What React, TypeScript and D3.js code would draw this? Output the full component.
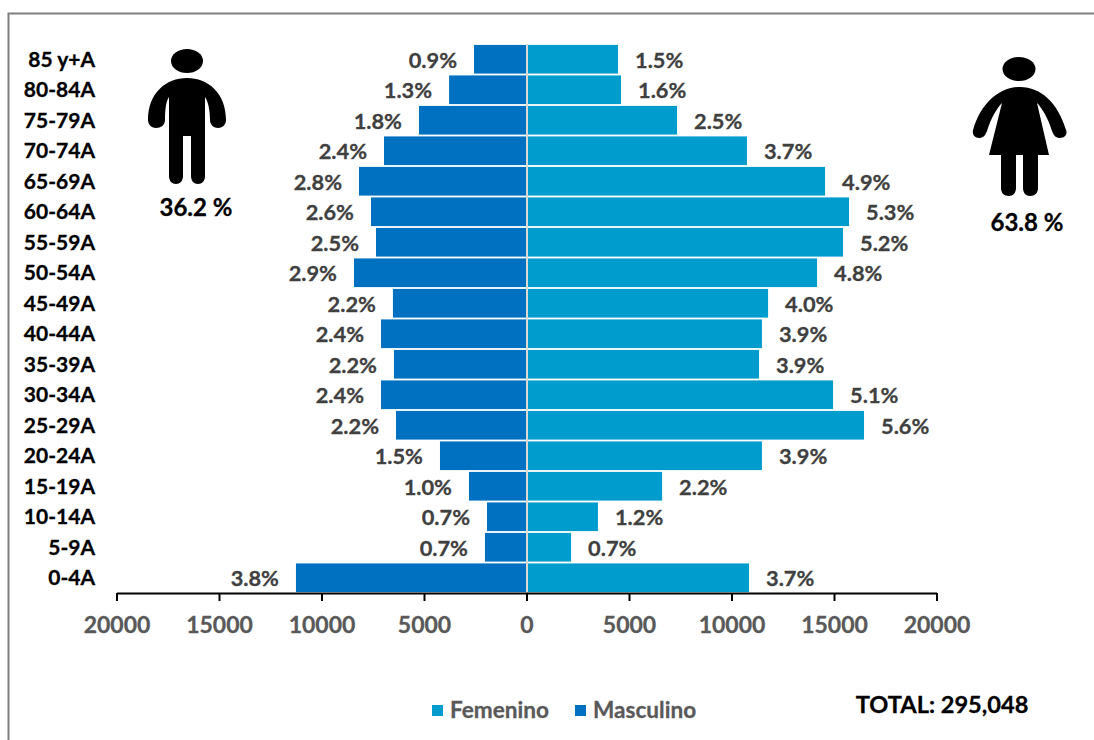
import React from "react";
import * as d3 from "d3";

// Population by five-year age group, youngest group last.
const ageGroups = ["85 y+A","80-84A","75-79A","70-74A","65-69A","60-64A","55-59A","50-54A","45-49A","40-44A","35-39A","30-34A","25-29A","20-24A","15-19A","10-14A","5-9A","0-4A"];
const maleValues = [2585,3800,5270,6975,8195,7610,7365,8440,6540,7120,6490,7120,6390,4245,2830,1950,2050,11270];
const femaleValues = [4440,4585,7320,10730,14540,15710,15415,14150,11760,11460,11320,14930,16440,11460,6590,3460,2150,10830];
const malePercents = ["0.9%","1.3%","1.8%","2.4%","2.8%","2.6%","2.5%","2.9%","2.2%","2.4%","2.2%","2.4%","2.2%","1.5%","1.0%","0.7%","0.7%","3.8%"];
const femalePercents = ["1.5%","1.6%","2.5%","3.7%","4.9%","5.3%","5.2%","4.8%","4.0%","3.9%","3.9%","5.1%","5.6%","3.9%","2.2%","1.2%","0.7%","3.7%"];
const axisTicks = [-20000,-15000,-10000,-5000,0,5000,10000,15000,20000];

const FEMALE = "#009cce";
const MALE = "#0070c0";
const FONT = "Lato, Carlito, sans-serif";

const x = d3.scaleLinear().domain([-20000, 20000]).range([117, 937]);
const y = d3.scaleBand<string>().domain(ageGroups).range([44, 593]).paddingInner(0.06).paddingOuter(0.03);

const manPath = "M187 78C208 78 226 93 226 120C226 125 222 128 218 128C214 128 210 125 210 120C210 110 208 101 205 97L205 176C205 181 202 184 198 184C194 184 191 181 191 176L191 136L183 136L183 176C183 181 180 184 176 184C172 184 169 181 169 176L169 97C166 101 165 110 165 120C165 125 161 128 156 128C152 128 148 125 148 120C148 93 166 78 187 78Z";
const womanPath = "M1020 87C1041 87 1058 103 1066 130C1068 135 1064 138 1060 138C1056 138 1054 136 1052 131C1048 118 1042 108 1037 103L1049 155L1038 155L1038 188C1038 193 1035 196 1030 196C1026 196 1023 193 1023 188L1023 155L1016 155L1016 188C1016 193 1013 196 1009 196C1004 196 1001 193 1001 188L1001 155L989 155L1002 103C997 108 991 118 987 131C985 136 983 138 979 138C975 138 972 135 973 130C981 103 999 87 1020 87Z";

export default function App() {
  const zero = x(0);
  return (
    <svg width={1094} height={740} style={{ position: "absolute", left: 0, top: 0, background: "#fff", fontFamily: FONT, fontWeight: 700 }}>
      <path d="M8.5 740V13.5H1094" fill="none" stroke="#7f7f7f" strokeWidth={2} />

      {ageGroups.map((g, i) => {
        const top = y(g)!;
        const h = y.bandwidth();
        const cy = top + h / 2;
        const left = x(-maleValues[i]);
        const right = x(femaleValues[i]);
        return (
          <g key={g}>
            <rect x={left} y={top} width={zero - left} height={h} fill={MALE} />
            <rect x={zero} y={top} width={right - zero} height={h} fill={FEMALE} />
            <text x={95} y={cy} dy="0.35em" textAnchor="end" fontSize={21} fill="#000" stroke="#000" strokeWidth={0.3}>{g}</text>
            <text x={left - 17} y={cy + 1} dy="0.35em" textAnchor="end" fontSize={21.8} fill="#404040" stroke="#404040" strokeWidth={0.3}>{malePercents[i]}</text>
            <text x={right + 17} y={cy + 1} dy="0.35em" fontSize={21.8} fill="#404040" stroke="#404040" strokeWidth={0.3}>{femalePercents[i]}</text>
          </g>
        );
      })}

      <line x1={zero} x2={zero} y1={44} y2={593} stroke="#d9d9d9" strokeWidth={2} />

      <line x1={x(-20000)} x2={x(20000)} y1={593.5} y2={593.5} stroke="#000" strokeWidth={2} />
      {axisTicks.map((t) => (
        <g key={t}>
          <line x1={x(t)} x2={x(t)} y1={593} y2={601} stroke="#000" strokeWidth={2} />
          <text x={x(t)} y={625} dy="0.35em" textAnchor="middle" fontSize={23} fill="#595959" stroke="#595959" strokeWidth={0.3}>{Math.abs(t)}</text>
        </g>
      ))}

      <ellipse cx={187} cy={61} rx={16} ry={12} fill="#000" />
      <path d={manPath} fill="#000" />
      <text x={196} y={208} dy="0.35em" textAnchor="middle" fontSize={24} fill="#000" stroke="#000" strokeWidth={0.3}>36.2 %</text>

      <ellipse cx={1019} cy={69} rx={16.5} ry={12} fill="#000" />
      <path d={womanPath} fill="#000" />
      <text x={1027} y={223} dy="0.35em" textAnchor="middle" fontSize={24} fill="#000" stroke="#000" strokeWidth={0.3}>63.8 %</text>

      <rect x={432} y={705} width={11} height={11} fill={FEMALE} />
      <text x={450} y={710} dy="0.35em" fontSize={22.6} fill="#595959" stroke="#595959" strokeWidth={0.3}>Femenino</text>
      <rect x={575} y={705} width={11} height={11} fill={MALE} />
      <text x={593} y={710} dy="0.35em" fontSize={22.6} fill="#595959" stroke="#595959" strokeWidth={0.3}>Masculino</text>
      <text x={942} y={705} dy="0.35em" textAnchor="middle" fontSize={23.6} fill="#000" stroke="#000" strokeWidth={0.3}>TOTAL: 295,048</text>
    </svg>
  );
}
